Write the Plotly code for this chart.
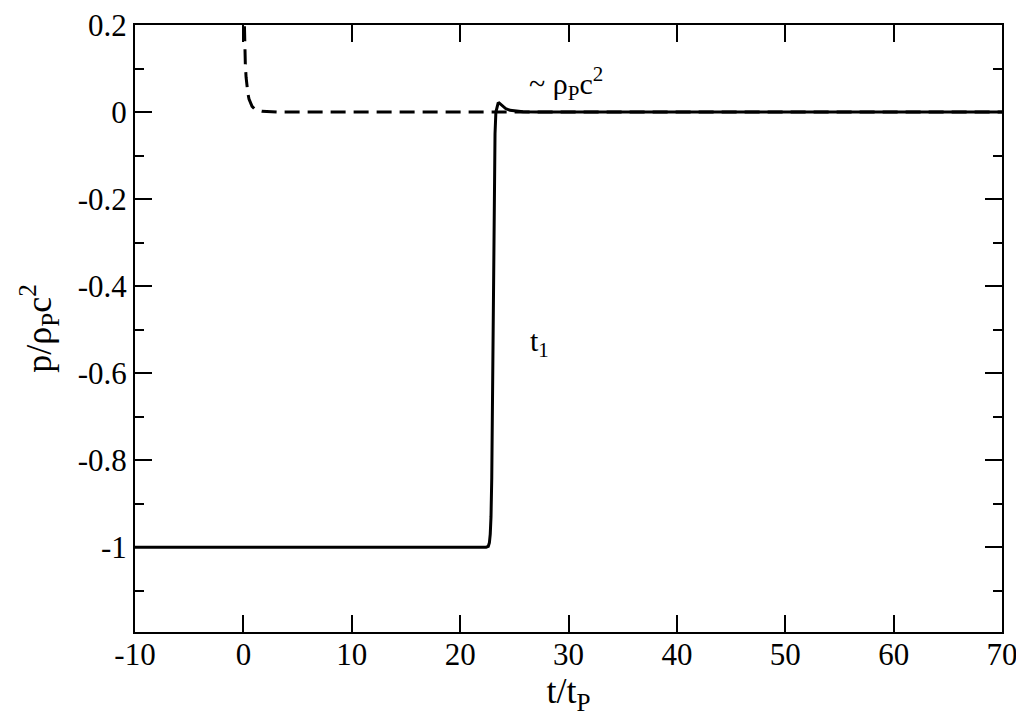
import plotly.graph_objects as go

# solid curve: pressure at the point (jump near t1)
t_solid = [-10, 22.4, 22.6, 22.7, 22.78, 22.85, 22.92, 23.0, 23.08, 23.15, 23.22, 23.3, 23.4,
           23.5, 23.6, 23.75, 23.95, 24.2, 24.6, 25.1, 25.8, 27, 70]
p_solid = [-1, -1, -0.998, -0.99, -0.97, -0.93, -0.84, -0.62, -0.38, -0.17, -0.05, 0.0, 0.014,
           0.02, 0.021, 0.018, 0.013, 0.008, 0.004, 0.002, 0.0008, 0, 0]

# dashed curve: initial pulse decaying near t = 0
t_dash = [0.05, 0.08, 0.12, 0.18, 0.25, 0.33, 0.42, 0.52, 0.65, 0.8, 1.0, 1.3, 1.7, 2.3, 3.2, 70]
p_dash = [0.25, 0.2, 0.15, 0.11, 0.08, 0.058, 0.042, 0.03, 0.02, 0.013, 0.008, 0.004, 0.002, 0.001, 0, 0]

x_ticks = [-10, 0, 10, 20, 30, 40, 50, 60, 70]
y_ticks = [0.2, 0, -0.2, -0.4, -0.6, -0.8, -1]
y_minor = [0.1, -0.1, -0.3, -0.5, -0.7, -0.9, -1.1]

font = "Liberation Serif, Times New Roman, serif"

fig = go.Figure()
fig.add_trace(go.Scatter(x=t_dash, y=p_dash, mode="lines",
                         line=dict(color="black", width=3, dash="15px,8px"),
                         showlegend=False))
fig.add_trace(go.Scatter(x=t_solid, y=p_solid, mode="lines",
                         line=dict(color="black", width=3),
                         showlegend=False))

fig.add_annotation(x=26.2, y=0.065, xref="x", yref="y", xanchor="left", yanchor="middle",
                   text="~ ρ<sub>P</sub>c<sup>2</sup>", showarrow=False,
                   font=dict(family=font, size=30, color="black"))
fig.add_annotation(x=26.3, y=-0.53, xref="x", yref="y", xanchor="left", yanchor="middle",
                   text="t<sub>1</sub>", showarrow=False,
                   font=dict(family=font, size=30, color="black"))

axis_common = dict(showline=True, linecolor="black", linewidth=2, mirror="ticks",
                   ticks="inside", ticklen=17, tickwidth=2, tickcolor="black",
                   showgrid=False, zeroline=False, automargin=False,
                   ticklabeloverflow="allow",
                   tickfont=dict(family=font, size=31, color="black"))

fig.update_layout(
    width=1008, height=708,
    paper_bgcolor="white", plot_bgcolor="white",
    margin=dict(l=127, r=14, t=17, b=84),
    xaxis=dict(range=[-10, 70], tickvals=x_ticks, ticktext=[str(v) for v in x_ticks],
               ticklabelstandoff=-6,
               title=dict(text="t/t<sub>P</sub>", font=dict(family=font, size=36, color="black")),
               **axis_common),
    yaxis=dict(range=[-1.195, 0.2], tickvals=y_ticks, ticktext=["0.2", "0", "-0.2", "-0.4", "-0.6", "-0.8", "-1"],
               minor=dict(tickvals=y_minor, ticks="inside",
                          ticklen=9, tickwidth=2, tickcolor="black"),
               title=dict(text="p/ρ<sub>P</sub>c<sup>2</sup>", font=dict(family=font, size=36, color="black")),
               **axis_common),
)

fig.write_html("out.html")
